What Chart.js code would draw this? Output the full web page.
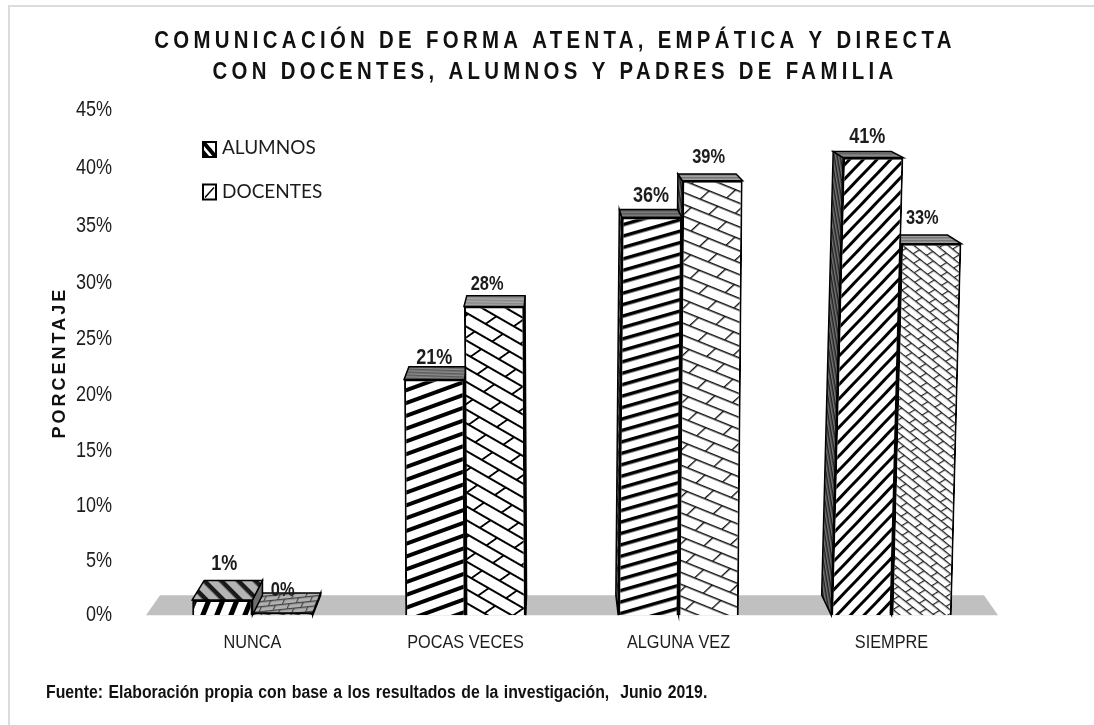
<!DOCTYPE html>
<html><head><meta charset="utf-8">
<style>
html,body{margin:0;padding:0;background:#fff;overflow:hidden}
#frame{position:absolute;left:8px;top:5px;width:1086px;height:720px;border-left:2px solid #dcdcdc;border-top:2px solid #dcdcdc}
canvas{position:absolute;left:0;top:0}
</style>
<script src="https://cdn.jsdelivr.net/npm/chart.js@4/dist/chart.umd.js"></script>
</head><body><div id="frame"></div><canvas id="c" width="1094" height="725"></canvas>
<script>
const categories = ['NUNCA','POCAS VECES','ALGUNA VEZ','SIEMPRE'];
const alumnos = [1.4, 21.4, 35.7, 40.9];
const docentes = [0.2, 27.9, 38.9, 33.4];
const titleLines = ['COMUNICACIÓN DE FORMA ATENTA, EMPÁTICA Y DIRECTA','CON DOCENTES, ALUMNOS Y PADRES DE FAMILIA'];
const footerText = 'Fuente: Elaboración propia con base a los resultados de la investigación,  Junio 2019.';
const axisTitle = 'PORCENTAJE';

const ARIAL = '"Liberation Sans",sans-serif';
const INK = '#1c1c1c';

const canvas = document.getElementById('c');
const ctx0 = canvas.getContext('2d');

function tile(w,h,paint){const c=document.createElement('canvas');c.width=w;c.height=h;paint(c.getContext('2d'),w,h);return c;}
function hatch(angle,period,lw,fg,bg){
  const t=tile(8,period,(g,w,h)=>{g.fillStyle=bg;g.fillRect(0,0,w,h);g.fillStyle=fg;g.fillRect(0,0,w,lw);});
  const p=ctx0.createPattern(t,'repeat');p.setTransform(new DOMMatrix().rotate(angle));return p;
}
function brick(angle,w,row,lw,fg,bg,shear){
  const t=tile(w,row*2,(g,W,H)=>{g.fillStyle=bg;g.fillRect(0,0,W,H);g.fillStyle=fg;
    g.fillRect(0,0,W,lw);g.fillRect(0,row,W,lw);
    g.fillRect(0,0,lw,row);g.fillRect(W/2,row,lw,row);});
  const p=ctx0.createPattern(t,'repeat');
  p.setTransform(new DOMMatrix().rotate(angle).skewX(shear||0));return p;
}
const alumnosFront=[hatch(-68,13,5,'#000','#fff'),hatch(-20,12,4,'#000','#fff'),hatch(-16,11,3.5,'#000','#fff'),hatch(-47,10,3,'#000','#fff')];
const docentesFront=[brick(20,14,5,1.5,'#333','#aaa'),brick(30,40,12,2,'#000','#fff',-25),brick(22,38,11,1.5,'#111','#fff',-25),brick(38,18,7,1.3,'#222','#fff',-20)];
const alumnosTop=[hatch(45,12,4.5,'#1a1a1a','#b4b4b4'),hatch(2,3,1.5,'#5a5a5a','#8c8c8c'),hatch(0,3,1.5,'#5a5a5a','#7c7c7c'),hatch(0,3,1.5,'#666','#8a8a8a')];
const docentesTop=[brick(-6,14,5,1.3,'#444','#b0b0b0',-30),hatch(1,3,1.5,'#888','#a8a8a8'),hatch(0,3,1.5,'#777','#a0a0a0'),hatch(0,3,1.5,'#777','#a0a0a0')];
const sideFill=['#6e6e6e','#555',hatch(80,3,1.5,'#222','#777'),hatch(80,3,1.5,'#222','#777')];
const skewByCategory=[0,-0.005,0.009,0.026];
const labelNudgeX=[[2,0,-1,-6],[0,-7,-4,-9]];
const labelNudgeY=[[-16,-9,-14,-15],[-3,-11,-16,-17]];
const labelFontSize=[22,20];
const NARROW_X=0.82;

const floorColor='#c0c0c0';
const depthX=x=>(548-x)*0.0337;
const depthY=y=>6+(y-154)*0.0304;

class PerspectiveScale extends Chart.LinearScale{
  getPixelForValue(v){return this.bottom-(10.81*v+0.0091*v*v)*this.height/505;}
}
PerspectiveScale.id='perspective';
PerspectiveScale.defaults=Chart.LinearScale.defaults;
Chart.register(PerspectiveScale);

function poly(c,pts,fill){c.beginPath();pts.forEach((p,i)=>i?c.lineTo(p[0],p[1]):c.moveTo(p[0],p[1]));c.closePath();c.fillStyle=fill;c.fill();c.strokeStyle='#000';c.lineWidth=1.5;c.stroke();}

const decor={
  id:'decor',
  afterLayout(chart){
    const c=chart.ctx;
    const wrap=(o,key,fn)=>{const flag='__w'+key;if(o[flag])return;o[flag]=1;const d=o[key];o[key]=function(...a){c.save();fn(c);d.apply(o,a);c.restore();};};
    wrap(chart.titleBlock,'draw',g=>{g.letterSpacing='5.06px';g.translate(555,0);g.scale(0.85,1);g.translate(-499,0);});
    const foot=chart.boxes.find(b=>b.options&&b.options.text===footerText);
    if(foot)wrap(foot,'draw',g=>{g.wordSpacing='1.2px';g.translate(46,0);g.scale(0.903,1);});
    wrap(chart.scales.y,'drawTitle',g=>{g.letterSpacing='3px';});
    wrap(chart.scales.y,'drawLabels',g=>{g.translate(112,0);g.scale(NARROW_X,1);g.translate(-112,0);});
    wrap(chart.scales.x,'drawLabels',g=>{g.translate(0,641);g.scale(1,1.15);g.translate(0,-641);});
    chart.legend.left=178.5;chart.legend.right=500;chart.legend.top=113.5;chart.legend.bottom=500;
  },
  afterDatasetsUpdate(chart){
    [0,1].forEach(di=>{
      chart.getDatasetMeta(di).data.forEach((el,i)=>{
        if(el.__s)return;el.__s=1;
        const k=skewByCategory[i],d=el.draw;
        el.draw=function(c,area){c.save();c.transform(1,0,-k,1,k*this.base,0);d.call(this,c,area);c.restore();};
      });
    });
  },
  beforeDatasetsDraw(chart){
    const c=chart.ctx,a=chart.chartArea;
    const f=a.bottom-20;
    c.save();
    c.fillStyle=floorColor;c.beginPath();c.moveTo(a.left,a.bottom);c.lineTo(a.left+14,f);c.lineTo(a.right-14,f);c.lineTo(a.right,a.bottom);c.closePath();c.fill();
    [1,0].forEach(di=>{
      const tops=di?docentesTop:alumnosTop;
      chart.getDatasetMeta(di).data.forEach((el,i)=>{
        const k=skewByCategory[i],w=el.width,b=el.base,y=el.y;
        const sh=k*(b-y),xl=el.x-w/2,xr=el.x+w/2;
        const fl=[xl+sh,y],fr=[xr+sh,y];
        const dy=depthY(y);
        const bl=[fl[0]+depthX(fl[0]),y-dy],br=[fr[0]+depthX(fr[0]),y-dy];
        if(depthX(fl[0])<0)poly(c,[fl,bl,[xl+depthX(xl),b-20],[xl,b]],sideFill[i]);
        if(depthX(fr[0])>0)poly(c,[fr,br,[xr+depthX(xr),b-20],[xr,b]],sideFill[i]);
        poly(c,[fl,bl,br,fr],tops[i]);
      });
    });
    c.restore();
  },
  afterDatasetsDraw(chart){
    const c=chart.ctx;
    c.save();c.textAlign='center';c.textBaseline='middle';c.fillStyle=INK;
    [0,1].forEach(di=>{
      c.font='bold '+labelFontSize[di]+'px '+ARIAL;
      chart.getDatasetMeta(di).data.forEach((el,i)=>{
        const k=skewByCategory[i],y=el.y,cx=el.x+k*(el.base-y);
        const v=chart.data.datasets[di].data[i];
        c.save();
        c.translate(cx+labelNudgeX[di][i],y-depthY(y)+labelNudgeY[di][i]);
        c.scale(NARROW_X,1);
        c.fillText(Math.round(v)+'%',0,0);
        c.restore();
      });
    });
    // legend markers
    const L=chart.legend,x=L.left+24.5,y0=L.top+28.5;
    [0,1].forEach(i=>{
      const y=y0+i*42.5;
      c.fillStyle='#fff';c.fillRect(x,y,13,15);
      c.strokeStyle='#000';
      c.beginPath();
      if(i===0){c.lineWidth=4;c.moveTo(x+1,y+1);c.lineTo(x+12,y+14);c.stroke();
        c.fillStyle='#000';c.beginPath();c.moveTo(x,y+7);c.lineTo(x,y+15);c.lineTo(x+7,y+15);c.closePath();c.fill();}
      else{c.lineWidth=1.5;c.moveTo(x+2,y+13);c.lineTo(x+11,y+3);c.stroke();}
      c.lineWidth=2;c.strokeRect(x,y,13,15);
    });
    c.restore();
  }
};

new Chart(canvas,{
  type:'bar',
  plugins:[decor],
  data:{labels:categories,datasets:[
    {label:'ALUMNOS',data:alumnos,backgroundColor:alumnosFront,borderColor:'#000',borderWidth:2},
    {label:'DOCENTES',data:docentes,backgroundColor:docentesFront,borderColor:'#000',borderWidth:2}
  ]},
  options:{
    responsive:false,animation:false,events:[],
    layout:{padding:{left:0,right:96,top:0,bottom:0}},
    datasets:{bar:{categoryPercentage:0.566,barPercentage:1}},
    plugins:{
      tooltip:{enabled:false},
      title:{display:true,text:titleLines,color:'#111',padding:{top:26,bottom:22},
        font:{family:ARIAL,size:24,weight:'bold',lineHeight:1.292}},
      subtitle:{display:true,position:'bottom',align:'start',text:footerText,color:'#111',
        fullSize:true,padding:{top:17,bottom:21},font:{family:ARIAL,size:17.5,weight:'bold',lineHeight:1.25}},
      legend:{position:'chartArea',align:'start',
        labels:{boxWidth:9,boxHeight:0,padding:25,color:INK,font:{family:'Lato',size:19},
          generateLabels(chart){return chart.data.datasets.map((d,i)=>({text:d.label,fillStyle:'rgba(0,0,0,0)',strokeStyle:'rgba(0,0,0,0)',lineWidth:0,datasetIndex:i,fontColor:INK}));}}}
    },
    scales:{
      x:{grid:{display:false},border:{display:false},
        ticks:{color:INK,padding:10,maxRotation:0,font:{family:ARIAL,size:16.3}},
        afterFit(s){s.height=50;}},
      y:{type:'perspective',min:0,max:45,grid:{display:false},border:{display:false},
        ticks:{stepSize:5,color:INK,padding:26,callback:v=>v+'%',font:{family:ARIAL,size:22}},
        title:{display:true,text:axisTitle,color:'#111',padding:{top:49,bottom:0},font:{family:ARIAL,size:18,weight:'bold'}},
        afterFit(s){s.width=146;}}
    }
  }
});
</script></body></html>
